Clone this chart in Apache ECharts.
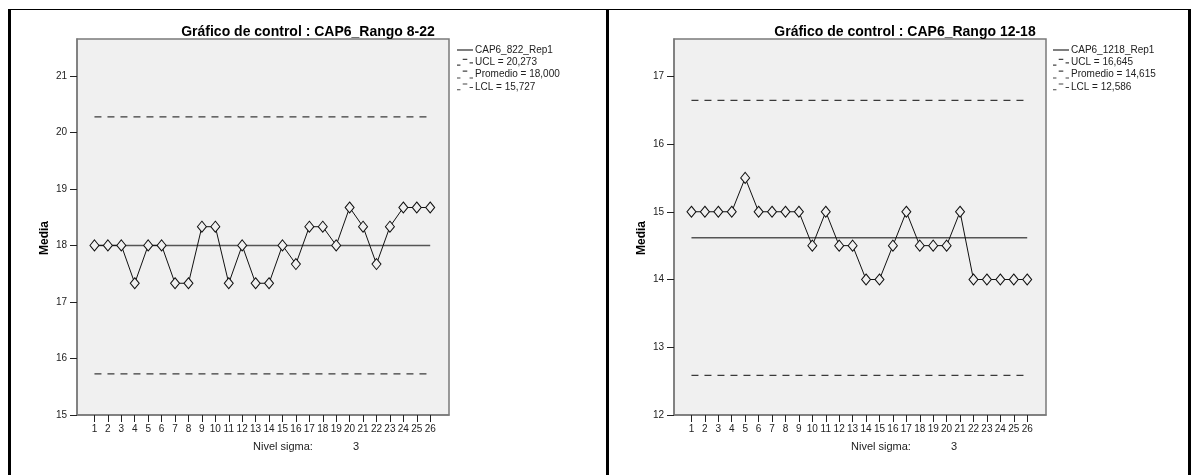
<!DOCTYPE html>
<html>
<head>
<meta charset="utf-8">
<script src="https://cdn.jsdelivr.net/npm/echarts@6/dist/echarts.min.js"></script>
<style>
  html, body { margin: 0; padding: 0; background: #fff; }
  #main { width: 1192px; height: 475px; }
</style>
</head>
<body>
<div id="main"></div>
<script>
// puntos del eje X (subgrupos)
var puntos = [1, 2, 3, 4, 5, 6, 7, 8, 9, 10, 11, 12, 13, 14, 15, 16, 17, 18, 19, 20, 21, 22, 23, 24, 25, 26];

// medias
var mediasRango822 = [18, 18, 18, 17.33, 18, 18, 17.33, 17.33, 18.33, 18.33, 17.33, 18, 17.33,
                      17.33, 18, 17.67, 18.33, 18.33, 18, 18.67, 18.33, 17.67, 18.33, 18.67, 18.67, 18.67];
var mediasRango1218 = [15, 15, 15, 15, 15.5, 15, 15, 15, 15, 14.5, 15, 14.5, 14.5,
                       14, 14, 14.5, 15, 14.5, 14.5, 14.5, 15, 14, 14, 14, 14, 14];

// limites de control [UCL, Promedio, LCL]
var limites822 = [20.273, 18.000, 15.727];
var limites1218 = [16.645, 14.615, 12.586];

// marcas del eje Y
var ticksY822 = [15, 16, 17, 18, 19, 20, 21];
var ticksY1218 = [12, 13, 14, 15, 16, 17];

var nombres = ['CAP6_822_Rep1', 'CAP6_1218_Rep1'];
var titulos = ['Gráfico de control : CAP6_Rango 8-22', 'Gráfico de control : CAP6_Rango 12-18'];

var fuente = '"Liberation Sans Narrow", "Liberation Sans", Arial, sans-serif';

function coma(v){
    return v.toFixed(3).replace('.', ',');
}

function tramo(v){
    return [[puntos[0], v], [puntos[puntos.length - 1], v]];
}

// iconos de la leyenda
var iconoLinea = 'path://M0,4 L16,4 L16,5.5 L0,5.5 Z';
var iconoUcl = 'path://M0,6 L3,6 L3,7 L0,7 Z M5,1 L9,1 L9,2 L5,2 Z M11,4 L14,4 L14,5 L11,5 Z';
var iconoProm = 'path://M0,7 L3,7 L3,8 L0,8 Z M5,1 L9,1 L9,2 L5,2 Z M11,7 L14,7 L14,8 L11,8 Z';

var grids = [
    {left: 77, top: 39, width: 372, height: 376},
    {left: 674, top: 39, width: 372, height: 376}
];

var option = {
    backgroundColor: '#fff',
    animation: false,
    title: [],
    legend: [],
    grid: [],
    xAxis: [],
    yAxis: [],
    series: [],
    graphic: []
};

var paneles = [
    {datos: mediasRango822, lim: limites822, ticks: ticksY822, min: 15, max: 21.65, leyX: 452, nivelX: 253},
    {datos: mediasRango1218, lim: limites1218, ticks: ticksY1218, min: 12, max: 17.55, leyX: 1048, nivelX: 851}
];

paneles.forEach(function(p, i){
    var g = grids[i];
    option.title.push({
        text: titulos[i],
        left: g.left + 226,
        top: 20,
        textAlign: 'center',
        textStyle: {fontFamily: 'Liberation Sans, Arial, sans-serif', fontSize: 14, fontWeight: 'bold', color: '#000'}
    });
    option.grid.push({
        left: g.left, top: g.top, width: g.width, height: g.height,
        show: true, backgroundColor: '#f0f0f0', borderColor: '#7a7a7a', borderWidth: 1.5
    });
    option.xAxis.push({
        type: 'value', gridIndex: i, min: -0.3, max: 27.4,
        axisLine: {show: true, onZero: false, lineStyle: {color: '#7a7a7a', width: 1.5}},
        axisTick: {show: true, length: 7, customValues: puntos, lineStyle: {color: '#222'}},
        axisLabel: {customValues: puntos, margin: 9, fontSize: 10, color: '#222', fontFamily: fuente},
        splitLine: {show: false}
    });
    option.yAxis.push({
        type: 'value', gridIndex: i, min: p.min, max: p.max,
        name: 'Media', nameLocation: 'middle', nameGap: 26,
        nameTextStyle: {fontFamily: 'Liberation Sans, Arial, sans-serif', fontSize: 12, fontWeight: 'bold', color: '#000', padding: [0, 22, 0, 0]},
        axisLine: {show: true, onZero: false, lineStyle: {color: '#7a7a7a', width: 1.5}},
        axisTick: {show: true, length: 7, customValues: p.ticks, lineStyle: {color: '#222'}},
        axisLabel: {customValues: p.ticks, margin: 10, fontSize: 10, color: '#222', fontFamily: fuente},
        splitLine: {show: false}
    });

    var nUcl = 'UCL = ' + coma(p.lim[0]);
    var nProm = 'Promedio = ' + coma(p.lim[1]);
    var nLcl = 'LCL = ' + coma(p.lim[2]);

    option.legend.push({
        orient: 'vertical', left: p.leyX, top: 40,
        itemWidth: 16, itemHeight: 9, itemGap: 2.3,
        textStyle: {fontSize: 10, color: '#222', fontFamily: fuente, padding: [0, 0, 0, -3]},
        selectedMode: false,
        data: [
            {name: nombres[i], icon: iconoLinea, itemStyle: {color: '#555', borderWidth: 0}},
            {name: nUcl, icon: iconoUcl, itemStyle: {color: '#444', borderWidth: 0}},
            {name: nProm, icon: iconoProm, itemStyle: {color: '#444', borderWidth: 0}},
            {name: nLcl, icon: iconoUcl, itemStyle: {color: '#444', borderWidth: 0}}
        ]
    });

    var limStyle = {color: '#3a3a3a', width: 1.3, type: [7, 6]};
    option.series.push(
        {name: nUcl, type: 'line', xAxisIndex: i, yAxisIndex: i, data: tramo(p.lim[0]),
         symbol: 'none', lineStyle: limStyle, color: '#3a3a3a', z: 2},
        {name: nProm, type: 'line', xAxisIndex: i, yAxisIndex: i, data: tramo(p.lim[1]),
         symbol: 'none', lineStyle: {color: '#555', width: 1.5}, color: '#555', z: 2},
        {name: nLcl, type: 'line', xAxisIndex: i, yAxisIndex: i, data: tramo(p.lim[2]),
         symbol: 'none', lineStyle: limStyle, color: '#3a3a3a', z: 2},
        {name: nombres[i], type: 'line', xAxisIndex: i, yAxisIndex: i,
         data: p.datos.map(function(v, k){ return [puntos[k], v]; }),
         symbol: 'diamond', symbolSize: [9, 11], color: '#000',
         lineStyle: {color: '#111', width: 1},
         itemStyle: {color: '#f0f0f0', borderColor: '#111', borderWidth: 1},
         z: 3}
    );

    option.graphic.push(
        {type: 'text', left: p.nivelX, top: 441,
         style: {text: 'Nivel sigma:', fontSize: 11, fill: '#222', fontFamily: fuente}},
        {type: 'text', left: p.nivelX + 100, top: 441,
         style: {text: '3', fontSize: 11, fill: '#222', fontFamily: fuente}}
    );
});

// marco de la tabla
option.graphic.push(
    {type: 'rect', shape: {x: 8, y: 9, width: 1182, height: 1}, style: {fill: '#000'}, silent: true},
    {type: 'rect', shape: {x: 8, y: 9, width: 3, height: 466}, style: {fill: '#000'}, silent: true},
    {type: 'rect', shape: {x: 606, y: 9, width: 3, height: 466}, style: {fill: '#000'}, silent: true},
    {type: 'rect', shape: {x: 1188, y: 9, width: 3, height: 466}, style: {fill: '#000'}, silent: true}
);

var chart = echarts.init(document.getElementById('main'));
chart.setOption(option);
</script>
</body>
</html>
